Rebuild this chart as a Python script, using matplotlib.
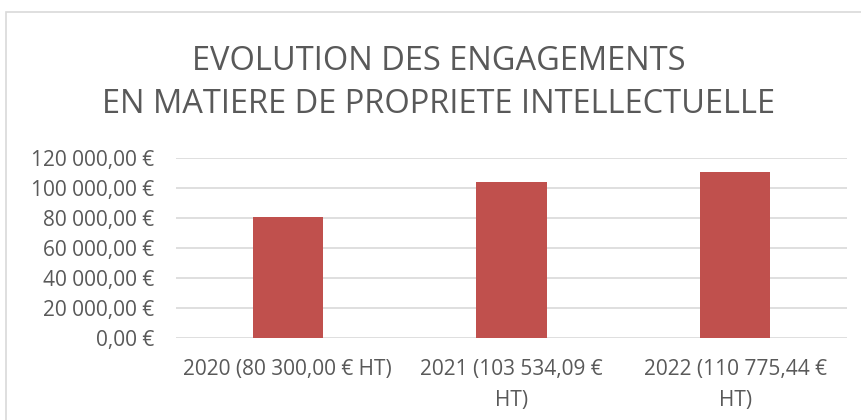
import matplotlib.pyplot as plt
from matplotlib.patches import Rectangle
from matplotlib.ticker import FuncFormatter

# data
years = ['2020', '2021', '2022']
amounts = [80300.00, 103534.09, 110775.44]
tick_labels = ['2020 (80 300,00 € HT)', '2021 (103 534,09 €\nHT)', '2022 (110 775,44 €\nHT)']
title = 'EVOLUTION DES ENGAGEMENTS\nEN MATIERE DE PROPRIETE INTELLECTUELLE'

plt.rcParams['font.family'] = ['Open Sans', 'DejaVu Sans']
text_color = '#595959'
grid_color = '#d9d9d9'
bar_color = '#c0504d'

W, H = 861, 420
fig = plt.figure(figsize=(W / 100, H / 100), dpi=100)

# chart border (cut at right and bottom in the reference)
fig.patches.append(Rectangle((6 / W, -0.1), 1.2, (H - 12) / H + 0.1, transform=fig.transFigure,
                             fill=False, edgecolor=grid_color, linewidth=1.2))

ax = fig.add_axes([176 / W, (H - 337.7) / H, (847 - 176) / W, 180 / H])
x = range(len(years))
ax.bar(x, amounts, width=0.313, color=bar_color, zorder=2)
ax.set_xlim(-0.5, 2.5)
ax.set_ylim(0, 120000)
ax.set_yticks(range(0, 120001, 20000))
ax.yaxis.set_major_formatter(FuncFormatter(lambda v, p: f'{v:,.2f}'.replace(',', ' ').replace('.', ',') + ' €'))
ax.set_xticks(list(x))
ax.set_xticklabels(tick_labels, linespacing=1.65)
ax.grid(axis='y', color=grid_color, linewidth=1.2, zorder=0)
for s in ax.spines.values():
    s.set_visible(False)
ax.tick_params(axis='y', length=0, pad=16, labelsize=15, labelcolor=text_color)
ax.tick_params(axis='x', length=0, pad=15, labelsize=15, labelcolor=text_color)

fig.text(438.5 / W, (H - 83) / H, title, ha='center', va='center', fontsize=23.5,
         color=text_color, linespacing=1.42)

fig.savefig('out.png', dpi=100)
